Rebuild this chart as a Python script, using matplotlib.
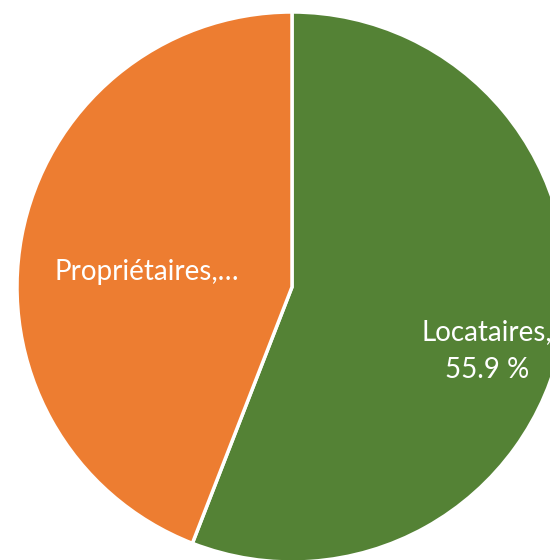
import matplotlib.pyplot as plt

labels = ["Locataires", "Propriétaires"]
shares = [55.9, 44.1]
colors = ["#548235", "#ED7D31"]

fig = plt.figure(figsize=(5.5, 5.6), dpi=100)
# pie centre ~ (292, 287) px, radius ~ 275 px
ax = fig.add_axes([17 / 550, -2 / 560, 550 / 550, 550 / 560])
ax.pie(shares, colors=colors, startangle=90, counterclock=False, radius=1,
       wedgeprops=dict(edgecolor="white", linewidth=2.5))
ax.set_xlim(-1, 1)
ax.set_ylim(-1, 1)
ax.set_aspect("equal")
ax.axis("off")

font = dict(color="white", fontsize=20, family="Lato", ha="center", va="center")
ax.text(-0.527, 0.055, labels[1] + ",…", **font)
ax.text(0.709, -0.233, f"{labels[0]},\n{shares[0]:.1f} %", linespacing=1.55, **font)

fig.savefig("out.png", dpi=100)
